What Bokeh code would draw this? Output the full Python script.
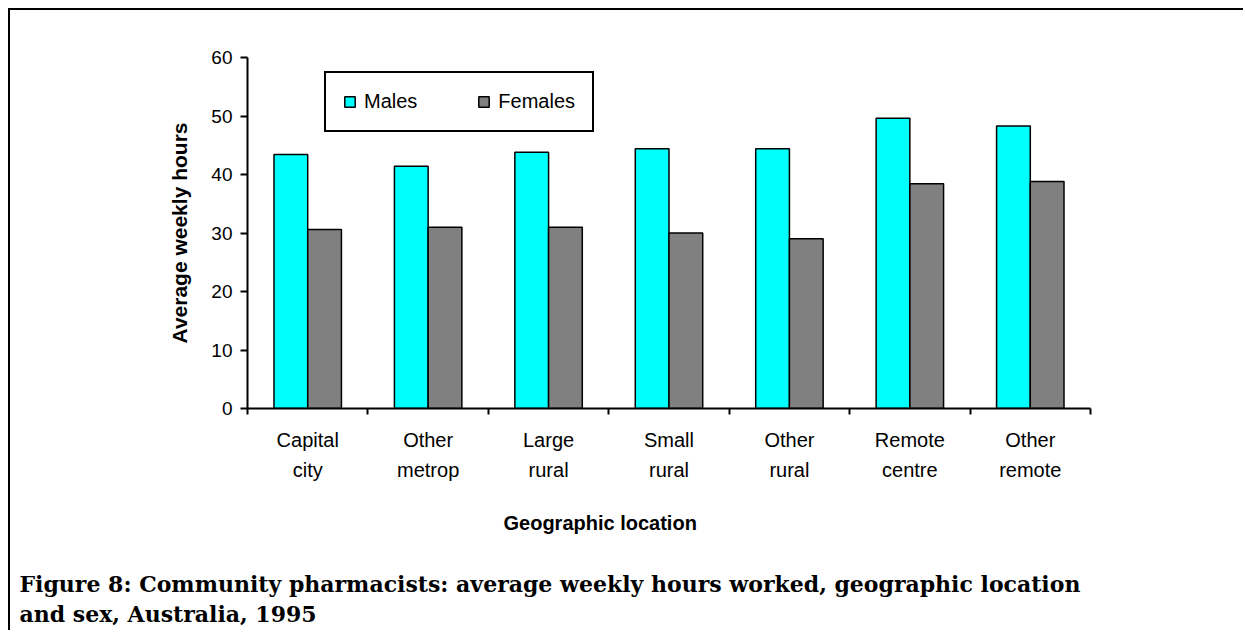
import numpy as np
from bokeh.plotting import figure
from bokeh.models import (Range1d, FixedTicker, LinearAxis, Legend, LegendItem, Title,
                          ColumnDataSource)
from bokeh.transform import dodge
from bokeh.embed import file_html
from bokeh.resources import INLINE

# ---- data ----
categories_line1 = ["Capital", "Other", "Large", "Small", "Other", "Remote", "Other"]
categories_line2 = ["city", "metrop", "rural", "rural", "rural", "centre", "remote"]
males = [43.4, 41.4, 43.8, 44.4, 44.4, 49.6, 48.3]
females = [30.6, 31.0, 31.0, 30.0, 29.0, 38.4, 38.8]
y_ticks = [0, 10, 20, 30, 40, 50, 60]
series_names = ["Males", "Females"]
y_title = "Average weekly hours"
x_title = "Geographic location"
caption_line1 = "Figure 8: Community pharmacists: average weekly hours worked, geographic location"
caption_line2 = "and sex, Australia, 1995"

n = len(males)
idx = list(range(n))
boundaries = [i - 0.5 for i in idx] + [n - 0.5]

W, H = 1235, 622
p = figure(width=W, height=H, output_backend="svg", toolbar_location=None,
           x_range=Range1d(-0.5, n - 0.5), y_range=Range1d(0, 60),
           x_axis_type=None, y_axis_type=None,
           min_border_left=237, min_border_right=155, min_border_top=47, min_border_bottom=223)
p.outline_line_color = None
p.background_fill_color = "white"
p.border_fill_color = "white"
p.styles = {"margin-left": "8px", "margin-top": "8px",
            "border-top": "2px solid black", "border-left": "2px solid black"}

FONT = "Liberation Sans"

# y axis
yaxis = LinearAxis(ticker=FixedTicker(ticks=y_ticks))
yaxis.axis_line_width = 2
yaxis.axis_line_color = "black"
yaxis.major_tick_out = 7
yaxis.major_tick_in = 0
yaxis.major_tick_line_width = 2
yaxis.minor_tick_out = 0
yaxis.major_label_standoff = 8
yaxis.major_label_text_font = FONT
yaxis.major_label_text_font_size = "19px"
yaxis.major_label_text_color = "black"
yaxis.axis_label = y_title
yaxis.axis_label_text_font = FONT
yaxis.axis_label_text_font_style = "bold"
yaxis.axis_label_text_font_size = "21px"
yaxis.axis_label_text_color = "black"
yaxis.axis_label_standoff = 17
p.add_layout(yaxis, "left")

# x axis (line 1 of category labels, ticks between groups)
xaxis1 = LinearAxis(ticker=FixedTicker(ticks=idx, minor_ticks=boundaries),
                    major_label_overrides={i: t for i, t in zip(idx, categories_line1)})
xaxis1.axis_line_width = 2
xaxis1.axis_line_color = "black"
xaxis1.major_tick_out = 0
xaxis1.major_tick_in = 0
xaxis1.major_tick_line_color = None
xaxis1.minor_tick_out = 6
xaxis1.minor_tick_in = 0
xaxis1.minor_tick_line_width = 2
xaxis1.minor_tick_line_color = "black"
xaxis1.major_label_standoff = 14
xaxis1.major_label_text_font = FONT
xaxis1.major_label_text_font_size = "20px"
xaxis1.major_label_text_color = "black"
p.add_layout(xaxis1, "below")

# second line of category labels
xaxis2 = LinearAxis(ticker=FixedTicker(ticks=idx),
                    major_label_overrides={i: t for i, t in zip(idx, categories_line2)})
xaxis2.axis_line_color = None
xaxis2.major_tick_line_color = None
xaxis2.minor_tick_line_color = None
xaxis2.major_tick_out = 0
xaxis2.major_tick_in = 0
xaxis2.major_label_standoff = 5
xaxis2.major_label_text_font = FONT
xaxis2.major_label_text_font_size = "20px"
xaxis2.major_label_text_color = "black"
p.add_layout(xaxis2, "below")

# x axis title (left of the frame centre, as in the original)
xt = Title(text=x_title, align="left", offset=256, standoff=56, vertical_align="top",
           text_font=FONT, text_font_style="bold", text_font_size="20px", text_color="black")
p.add_layout(xt, "below")

src = ColumnDataSource(dict(x=idx, males=males, females=females))
r1 = p.vbar(x=dodge("x", -0.14), top="males", width=0.28, source=src,
            fill_color="#00FFFF", line_color="black", line_width=1.5)
r2 = p.vbar(x=dodge("x", 0.14), top="females", width=0.28, source=src,
            fill_color="#808080", line_color="black", line_width=1.5)

legend = Legend(items=[LegendItem(label=series_names[0], renderers=[r1]),
                       LegendItem(label=series_names[1], renderers=[r2])],
                orientation="horizontal", location=(77, 276),
                border_line_color="black", border_line_width=2, border_line_alpha=1,
                padding=17, spacing=60, glyph_width=13, glyph_height=13, label_standoff=8,
                label_text_font=FONT, label_text_font_size="20px", label_text_color="black",
                margin=0, background_fill_color="white", background_fill_alpha=1)
p.add_layout(legend, "center")

# caption (two lines)
cap = Title(text=caption_line1 + "\n" + caption_line2, align="left", offset=-228, standoff=11,
            vertical_align="bottom",
            text_font="DejaVu Serif", text_font_style="bold", text_font_size="22px",
            text_color="black", text_line_height=1.15)
p.add_layout(cap, "below")

open("out.html", "w").write(file_html(p, INLINE))
